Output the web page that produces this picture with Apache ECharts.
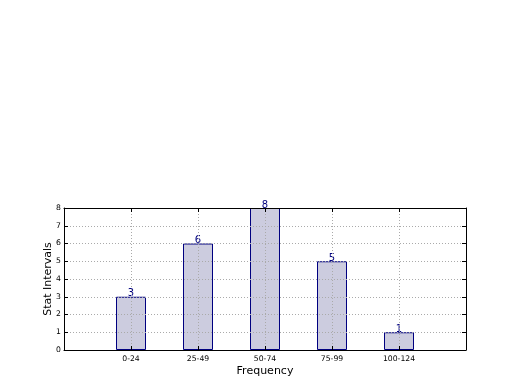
<!DOCTYPE html>
<html><head><meta charset="utf-8">
<script src="https://cdn.jsdelivr.net/npm/echarts@6/dist/echarts.min.js"></script>
<style>html,body{margin:0;padding:0;background:#fff}#c{width:520px;height:390px}</style>
</head><body><div id="c"></div>
<script>
const categories = ['0-24', '25-49', '50-74', '75-99', '100-124'];
const counts = [3, 6, 8, 5, 1];
const yTicks = [0, 1, 2, 3, 4, 5, 6, 7, 8];

const font = 'DejaVu Sans';
const chart = echarts.init(document.getElementById('c'));
const barData = counts.map((v, i) => [i, v]);
const gridLine = {show: true, lineStyle: {color: '#aaa', type: [1, 2], width: 1}};
const frame = {show: true, onZero: false, lineStyle: {color: '#000', width: 1}};
const ticks = {show: true, inside: true, length: 4, lineStyle: {color: '#000'}};
chart.setOption({
  animation: false,
  grid: {left: 64, right: 54, top: 208, bottom: 40, show: false},
  xAxis: [{
    type: 'value', min: -1, max: 5, interval: 1,
    name: 'Frequency', nameLocation: 'middle', nameGap: 16, nameMoveOverlap: false,
    nameTextStyle: {fontFamily: font, fontSize: 11, color: '#000'},
    axisLine: frame, axisTick: ticks,
    axisLabel: {fontFamily: font, fontSize: 7.7, color: '#000', margin: 5,
      formatter: v => (v >= 0 && v < categories.length) ? categories[v] : ''},
    splitLine: gridLine
  }, {
    type: 'value', position: 'top', min: -1, max: 5, interval: 1,
    axisLine: frame, axisTick: ticks,
    axisLabel: {show: false}, splitLine: {show: false}
  }],
  yAxis: [{
    type: 'value', min: yTicks[0], max: yTicks[yTicks.length - 1], interval: 1,
    name: 'Stat Intervals', nameLocation: 'middle', nameGap: 10, nameMoveOverlap: false,
    nameTextStyle: {fontFamily: font, fontSize: 11, color: '#000'},
    axisLine: frame, axisTick: ticks,
    axisLabel: {fontFamily: font, fontSize: 7.7, color: '#000', margin: 3},
    splitLine: gridLine
  }, {
    type: 'value', position: 'right', min: yTicks[0], max: yTicks[yTicks.length - 1], interval: 1,
    axisLine: frame, axisTick: ticks,
    axisLabel: {show: false}, splitLine: {show: false}
  }],
  series: [{
    type: 'bar', data: barData, barWidth: 30, z: -1,
    itemStyle: {color: '#ccccdf', borderColor: '#000080', borderWidth: 1},
    label: {show: true, position: 'top', distance: -2, fontFamily: font, fontSize: 10, color: '#000080'}
  }]
});
</script></body></html>
